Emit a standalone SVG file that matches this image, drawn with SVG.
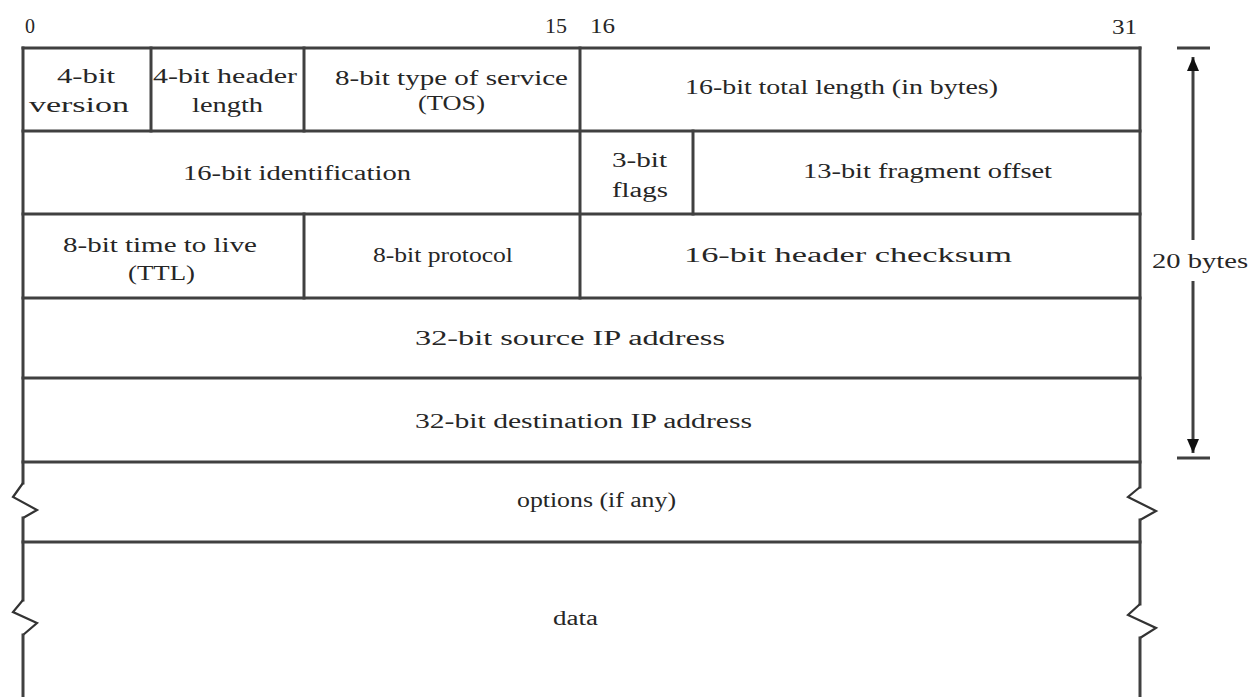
<svg xmlns="http://www.w3.org/2000/svg" width="1251" height="697" viewBox="0 0 1251 697">
<style>
  .ln { stroke:#404040; stroke-width:3; fill:none; stroke-linecap:square; }
  .cn { stroke:#404040; stroke-width:3; fill:none; stroke-linecap:butt; }
  .zz { stroke:#333; stroke-width:2.2; fill:none; stroke-linejoin:miter; }
  text { font-family:"Liberation Serif","Times New Roman",serif; font-size:20px; fill:#262626; }
</style>
<defs>
  <marker id="ah" viewBox="0 0 14 12" refX="14" refY="6" markerWidth="14" markerHeight="12" markerUnits="userSpaceOnUse" orient="auto-start-reverse">
    <path d="M0,0 L14,6 L0,12 Z" fill="#111"/>
  </marker>
</defs>
<rect width="1251" height="697" fill="#fff"/>

<g id="bit-labels">
  <text x="25" y="33">0</text>
  <text x="545" y="33" textLength="22" lengthAdjust="spacingAndGlyphs">15</text>
  <text x="590" y="33" textLength="25" lengthAdjust="spacingAndGlyphs">16</text>
  <text x="1112" y="34" textLength="25" lengthAdjust="spacingAndGlyphs">31</text>
</g>

<g id="frame">
  <line class="ln" x1="23" y1="48" x2="1140" y2="48"/>
  <line class="ln" x1="23" y1="131" x2="1140" y2="131"/>
  <line class="ln" x1="23" y1="214" x2="1140" y2="214"/>
  <line class="ln" x1="23" y1="298" x2="1140" y2="298"/>
  <line class="ln" x1="23" y1="378" x2="1140" y2="378"/>
  <line class="ln" x1="23" y1="462" x2="1140" y2="462"/>
  <line class="ln" x1="23" y1="542" x2="1140" y2="542"/>
  <line class="ln" x1="151" y1="48" x2="151" y2="131"/>
  <line class="ln" x1="304" y1="48" x2="304" y2="131"/>
  <line class="ln" x1="580" y1="48" x2="580" y2="298"/>
  <line class="ln" x1="693" y1="131" x2="693" y2="214"/>
  <line class="ln" x1="304" y1="214" x2="304" y2="298"/>
  <path class="ln" d="M23,48 V483"/>
  <path class="zz" d="M23,483 L13,497 L37,510 L23,518"/>
  <path class="ln" d="M23,518 V600"/>
  <path class="zz" d="M23,600 L13,612 L37,623 L23,635"/>
  <path class="ln" d="M23,635 V697"/>
  <path class="ln" d="M1140,48 V487"/>
  <path class="zz" d="M1140,487 L1128,497 L1156,511 L1140,520"/>
  <path class="ln" d="M1140,520 V604"/>
  <path class="zz" d="M1140,604 L1128,615 L1156,628 L1140,638"/>
  <path class="ln" d="M1140,638 V697"/>
</g>

<g id="version"><text x="57" y="83" textLength="58" lengthAdjust="spacingAndGlyphs">4-bit</text><text x="29" y="112" textLength="100" lengthAdjust="spacingAndGlyphs">version</text></g>
<g id="header-length"><text x="153" y="83" textLength="144" lengthAdjust="spacingAndGlyphs">4-bit header</text><text x="192" y="112" textLength="71" lengthAdjust="spacingAndGlyphs">length</text></g>
<g id="tos"><text x="335" y="85" textLength="233" lengthAdjust="spacingAndGlyphs">8-bit type of service</text><text x="418" y="110" textLength="67" lengthAdjust="spacingAndGlyphs">(TOS)</text></g>
<g id="total-length"><text x="685" y="94" textLength="313" lengthAdjust="spacingAndGlyphs">16-bit total length (in bytes)</text></g>
<g id="identification"><text x="183" y="180" textLength="228" lengthAdjust="spacingAndGlyphs">16-bit identification</text></g>
<g id="flags"><text x="612" y="167" textLength="55" lengthAdjust="spacingAndGlyphs">3-bit</text><text x="612" y="197" textLength="56" lengthAdjust="spacingAndGlyphs">flags</text></g>
<g id="fragment-offset"><text x="803" y="178" textLength="249" lengthAdjust="spacingAndGlyphs">13-bit fragment offset</text></g>
<g id="ttl"><text x="63" y="252" textLength="194" lengthAdjust="spacingAndGlyphs">8-bit time to live</text><text x="128" y="280" textLength="67" lengthAdjust="spacingAndGlyphs">(TTL)</text></g>
<g id="protocol"><text x="373" y="262" textLength="140" lengthAdjust="spacingAndGlyphs">8-bit protocol</text></g>
<g id="checksum"><text x="684" y="262" textLength="328" lengthAdjust="spacingAndGlyphs">16-bit header checksum</text></g>
<g id="source-ip"><text x="415" y="345" textLength="310" lengthAdjust="spacingAndGlyphs">32-bit source IP address</text></g>
<g id="destination-ip"><text x="415" y="428" textLength="337" lengthAdjust="spacingAndGlyphs">32-bit destination IP address</text></g>
<g id="options"><text x="517" y="507" textLength="159" lengthAdjust="spacingAndGlyphs">options (if any)</text></g>
<g id="data"><text x="553" y="625" textLength="45" lengthAdjust="spacingAndGlyphs">data</text></g>

<g id="connectors">
  <line class="cn" x1="1177" y1="48" x2="1210" y2="48"/>
  <line class="cn" x1="1177" y1="458" x2="1210" y2="458"/>
  <line class="cn" x1="1193" y1="57" x2="1193" y2="240" marker-start="url(#ah)"/>
  <line class="cn" x1="1193" y1="281" x2="1193" y2="453" marker-end="url(#ah)"/>
</g>
<g id="size-label"><text x="1152" y="268" textLength="96" lengthAdjust="spacingAndGlyphs">20 bytes</text></g>
</svg>
